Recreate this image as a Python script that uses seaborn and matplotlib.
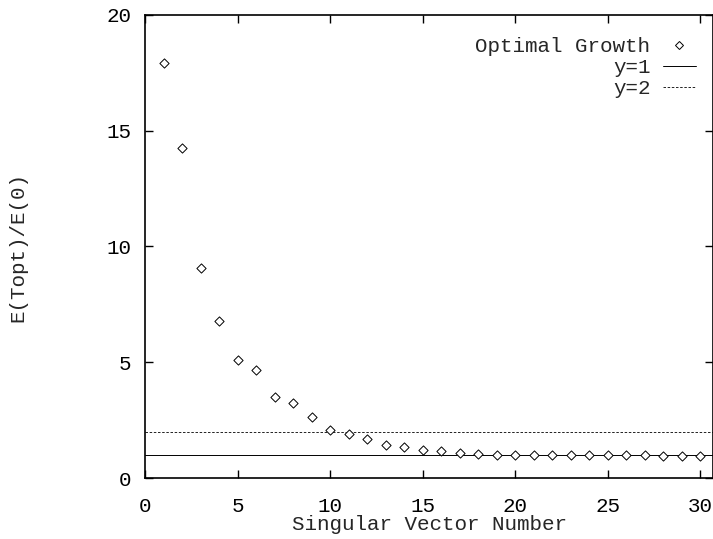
import matplotlib
matplotlib.use("Agg")
import matplotlib.pyplot as plt
import seaborn as sns
import pandas as pd
from matplotlib.lines import Line2D

sv_number = list(range(1, 31))
growth = [17.93, 14.25, 9.07, 6.78, 5.10, 4.67, 3.51, 3.22, 2.62, 2.07,
          1.90, 1.67, 1.42, 1.35, 1.21, 1.17, 1.09, 1.04, 1.01, 1.00,
          1.00, 0.99, 0.99, 0.99, 0.98, 0.98, 0.98, 0.97, 0.97, 0.97]
ref_levels = [1, 2]
ref_labels = ["y=1", "y=2"]
xticks = [0, 5, 10, 15, 20, 25, 30]
yticks = [0, 5, 10, 15, 20]

sns.set_theme(style="ticks")
plt.rcParams['font.family'] = ['Liberation Mono', 'DejaVu Sans Mono']

df = pd.DataFrame({"x": sv_number, "y": growth})

fig = plt.figure(figsize=(7.13, 5.39), dpi=100)
ax = fig.add_axes([145/713, 1-478/539, 1-145/713, (478-15)/539])

sns.scatterplot(data=df, x="x", y="y", marker="D", s=22, facecolor="white",
                edgecolor="black", linewidth=0.7, ax=ax, zorder=3)
ax.axhline(ref_levels[0], color="black", lw=0.7, ls="-", zorder=2)
ax.axhline(ref_levels[1], color="black", lw=0.6, ls=(0, (3, 2)), zorder=2)

ax.set_xlim(0, 30.7)
ax.set_ylim(0, 20)
ax.set_xticks(xticks)
ax.set_yticks(yticks)
ax.tick_params(direction="in", length=6, width=1, top=True, right=True,
               labelsize=15, colors="black")
ax.tick_params(axis="x", pad=14)
ax.tick_params(axis="y", pad=10)
for s in ax.spines.values():
    s.set_linewidth(1.2)
    s.set_color("black")
ax.set_xlabel("Singular Vector Number", fontsize=15, labelpad=-1)
ax.set_ylabel("E(Topt)/E(0)", fontsize=15, labelpad=57)

handles = [
    Line2D([], [], marker="D", ls="none", markersize=4.2, markerfacecolor="white",
           markeredgecolor="black", markeredgewidth=0.7),
    Line2D([], [], color="black", lw=0.7, ls="-"),
    Line2D([], [], color="black", lw=0.6, ls=(0, (3, 2))),
]
ax.legend(handles, ["Optimal Growth"] + ref_labels, loc="upper right",
          bbox_to_anchor=(0.985, 0.97), frameon=False, markerfirst=False,
          fontsize=15, handlelength=1.6, labelspacing=0.1, handletextpad=0.6,
          borderaxespad=0)

fig.savefig("out.png", dpi=100)
